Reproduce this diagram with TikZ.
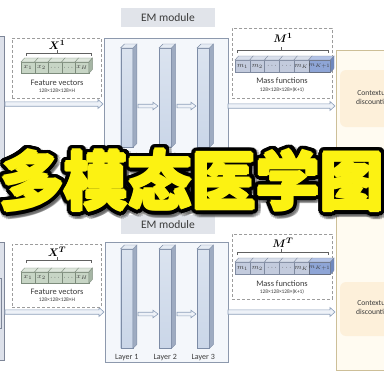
\documentclass[tikz,border=0pt]{standalone}
\usepackage{fontspec}
\usepackage{bm}
\usetikzlibrary{calc}
\newfontfamily\calib{Carlito}
\newfontfamily\cjk{Noto Sans CJK SC}

\definecolor{txt}{HTML}{3A3A3A}
\definecolor{emfill}{HTML}{F4F7FB}
\definecolor{emline}{HTML}{8D99AD}
\definecolor{labfill}{HTML}{E1E4EA}
\definecolor{srcfill}{HTML}{DDE1EA}
\definecolor{srcline}{HTML}{7E8698}
\definecolor{dashc}{HTML}{9C9C9C}
\definecolor{ctxfill}{HTML}{FFFBF1}
\definecolor{ctxline}{HTML}{CDBF98}
\definecolor{ctxinner}{HTML}{FDF0DA}
\definecolor{barfront}{HTML}{CAD6E8}
\definecolor{barside}{HTML}{9EABC1}
\definecolor{bartop}{HTML}{E6ECF4}
\definecolor{barline}{HTML}{7D8CA6}
\definecolor{arrline}{HTML}{8EA0BA}
\definecolor{arrfill}{HTML}{EEF2F8}
\definecolor{xfront}{HTML}{C7D5C5}
\definecolor{xtopc}{HTML}{DDE6DB}
\definecolor{xsidec}{HTML}{A6B6A5}
\definecolor{xline}{HTML}{7D8C7C}
\definecolor{mfront}{HTML}{C3CBDD}
\definecolor{mtopc}{HTML}{D9DFEB}
\definecolor{msidec}{HTML}{A1ABC2}
\definecolor{mline}{HTML}{7F8AA0}
\definecolor{mlast}{HTML}{8EA5D6}
\definecolor{mlasttop}{HTML}{B3C3E6}
\definecolor{mlastside}{HTML}{6F88BE}
\definecolor{ttlyellow}{RGB}{252,242,18}

\tikzset{
  lbl/.style={font=\calib\fontsize{8.4}{9}\selectfont, text=txt, inner sep=0pt},
  dims/.style={font=\calib\fontsize{5.4}{6}\selectfont, text=txt, inner sep=0pt},
  layerlbl/.style={font=\calib\fontsize{8}{9}\selectfont, text=txt, inner sep=0pt},
  emtitle/.style={fill=labfill, text=txt, font=\calib\fontsize{11.5}{12}\selectfont,
    minimum width=94, minimum height=19, inner sep=0pt},
  embox/.style={draw=emline, fill=emfill, line width=0.7pt, inner sep=0pt, anchor=north west},
  srcbox/.style={draw=srcline, fill=srcfill, line width=0.7pt, inner sep=0pt, anchor=north east},
  dashbox/.style={draw=dashc, dashed, dash pattern=on 3pt off 2pt, line width=0.6pt,
    inner sep=0pt, anchor=north west},
  ctxbox/.style={draw=ctxline, fill=ctxfill, line width=0.7pt, inner sep=0pt, anchor=north west},
  ctxtext/.style={font=\calib\fontsize{7.6}{8.4}\selectfont, text=txt, align=center, inner sep=0pt},
  bar/.style={draw=barline, line width=0.4pt, top color=bartop!60!barfront, bottom color=barfront,
    minimum width=12, minimum height=99, inner sep=0pt, anchor=north west},
  barsidef/.style={draw=barline, line width=0.4pt, fill=barside},
  bartopf/.style={draw=barline, line width=0.4pt, fill=bartop},
  hollowarrow/.style={draw=arrline, fill=arrfill, line width=0.6pt, line join=miter},
  bracket/.style={draw=txt!80, line width=0.5pt},
  veclbl/.style={font=\fontsize{11}{11}\selectfont, text=black, inner sep=0pt},
  xcube/.style={draw=xline, fill=xfront, line width=0.4pt, inner sep=0pt, anchor=north west,
    minimum width=13.5, minimum height=11, font=\fontsize{7}{7}\selectfont, text=txt},
  xtop/.style={draw=xline, line width=0.4pt, fill=xtopc},
  xside/.style={draw=xline, line width=0.4pt, fill=xsidec},
  mcube/.style={draw=mline, fill=mfront, line width=0.4pt, inner sep=0pt, anchor=north west,
    minimum width=14.7, minimum height=12, font=\fontsize{7}{7}\selectfont, text=txt},
  mtop/.style={draw=mline, line width=0.4pt, fill=mtopc},
  mside/.style={draw=mline, line width=0.4pt, fill=msidec},
  titlefont/.style={font=\cjk\bfseries\fontsize{64}{64}\selectfont, inner sep=0pt, anchor=base},
}

% hollow block arrow between two named points: start, end, half shaft, half head
\newcommand\blockarrow[4]{%
  \draw[hollowarrow] let \p1=(#1), \p2=(#2) in
    (\x1,\y1+#3) -- (\x2-5pt,\y2+#3) -- (\x2-5pt,\y2+#4) -- (\x2,\y2)
    -- (\x2-5pt,\y2-#4) -- (\x2-5pt,\y2-#3) -- (\x1,\y1-#3) -- cycle;}

% three-dimensional faces of a bar or cube node
\newcommand\topface[3]{%
  \filldraw[#3] (#1.north west) -- ++(#2,-4) -- ($(#1.north east)+(#2,-4)$) -- (#1.north east) -- cycle;}
\newcommand\sideface[3]{%
  \filldraw[#3] (#1.north east) -- ++(#2,-4) -- ($(#1.south east)+(#2,-4)$) -- (#1.south east) -- cycle;}

\begin{document}
\begin{tikzpicture}[x=1pt,y=-1pt]
\clip (0,0) rectangle (384,383);
\fill[white] (0,0) rectangle (384,383);

% ---------- source volumes on the left ----------
\node[srcbox, minimum width=20, minimum height=124] (src1) at (5,36) {};
\node[srcbox, minimum width=20, minimum height=118] (src2) at (5,242) {};
\node[srcbox, minimum width=12, minimum height=50] (src2in) at (2,278) {};

% ---------- contextual discounting block ----------
\node[ctxbox, minimum width=80, minimum height=320] (ctx) at (336,50) {};
\fill[ctxinner, rounded corners=6pt] (340,70) rectangle (400,127);
\fill[ctxinner, rounded corners=6pt] (340,282) rectangle (400,336);
\node[ctxtext] (ctx1) at (374,98) {Contextual\\discounting};
\node[ctxtext] (ctx2) at (374,308) {Contextual\\discounting};

% ---------- EM modules ----------
\node[emtitle] (eml1) at (168,17.5) {EM module};
\node[emtitle] (eml2) at (168,224.5) {EM module};
\node[embox, minimum width=124, minimum height=120] (em1) at (104,38) {};
\node[embox, minimum width=123, minimum height=120] (em2) at (105,242) {};

% layers of the upper module
\foreach \n/\x in {1/120.5, 2/159, 3/197} {
  \node[bar] (ta\n) at (\x,48) {};
  \sideface{ta\n}{4}{barsidef}
  \topface{ta\n}{4}{bartopf}
  \node[layerlbl] (tal\n) at ($(ta\n.south)+(0,9)$) {Layer \n};
}
% layers of the lower module
\foreach \n/\x in {1/120.5, 2/159, 3/197} {
  \node[bar] (ba\n) at (\x,249) {};
  \sideface{ba\n}{4}{barsidef}
  \topface{ba\n}{4}{bartopf}
  \node[layerlbl] (bal\n) at ($(ba\n.south)+(0,9)$) {Layer \n};
}

% ---------- arrow end points ----------
\coordinate (in1s) at (5,104);   \coordinate (in1e) at (103,104);
\coordinate (in2s) at (5,312);   \coordinate (in2e) at (104,312);
\coordinate (t12s) at (138,106); \coordinate (t12e) at (158,106);
\coordinate (t23s) at (177,106); \coordinate (t23e) at (196,106);
\coordinate (b12s) at (138,314); \coordinate (b12e) at (158,314);
\coordinate (b23s) at (177,314); \coordinate (b23e) at (196,314);
\coordinate (out1s) at (228,106); \coordinate (out1e) at (335,106);
\coordinate (out2s) at (228,312); \coordinate (out2e) at (335,312);

\blockarrow{in1s}{in1e}{2.2pt}{4.5pt}
\blockarrow{in2s}{in2e}{2.2pt}{4.5pt}
\blockarrow{t12s}{t12e}{1.8pt}{3.8pt}
\blockarrow{t23s}{t23e}{1.8pt}{3.8pt}
\blockarrow{b12s}{b12e}{1.8pt}{3.8pt}
\blockarrow{b23s}{b23e}{1.8pt}{3.8pt}
\blockarrow{out1s}{out1e}{2.2pt}{4.5pt}
\blockarrow{out2s}{out2e}{2.2pt}{4.5pt}

% ---------- feature vectors ----------
\node[dashbox, minimum width=89, minimum height=60] (xb1) at (12,38) {};
\node[dashbox, minimum width=89, minimum height=63] (xb2) at (12,244) {};
\node[veclbl] (xl1) at (57,45) {$\bm{X}^{\bm{1}}$};
\node[veclbl] (xl2) at (57,252) {$\bm{X}^{\bm{T}}$};
\draw[bracket] (26,56) -- (26,53) -- (91,53) -- (91,56) (57.5,53) -- (57.5,50);
\draw[bracket] (26,263) -- (26,260) -- (91,260) -- (91,263) (57.5,260) -- (57.5,257);

\foreach \r/\y in {u/62, d/272} {
  \foreach \i/\t in {0/{$x_1$}, 1/{$x_2$}, 2/{$\cdots$}, 3/{$\cdots$}, 4/{$x_H$}} {
    \node[xcube] (x\r\i) at ({21+13.5*\i},\y) {\t};
    \topface{x\r\i}{3.5}{xtop}
  }
  \sideface{x\r4}{3.5}{xside}
}
\node[lbl] (fv1) at (57,83) {Feature vectors};
\node[dims] (fd1) at (57,90.5) {128×128×128×H};
\node[lbl] (fv2) at (57,292) {Feature vectors};
\node[dims] (fd2) at (57,300) {128×128×128×H};

% ---------- mass functions ----------
\node[dashbox, minimum width=100, minimum height=70] (mb1) at (232,28) {};
\node[dashbox, minimum width=100, minimum height=65] (mb2) at (232,234) {};
\node[veclbl] (ml1) at (283,38) {$\bm{M}^{\bm{1}}$};
\node[veclbl] (ml2) at (283,243) {$\bm{M}^{\bm{T}}$};
\draw[bracket] (237,53) -- (237,50) -- (328,50) -- (328,53) (281,50) -- (281,47);
\draw[bracket] (237,255) -- (237,252) -- (328,252) -- (328,255) (281,252) -- (281,249);

\foreach \r/\y in {u/60, d/262} {
  \foreach \i/\t in {0/{$m_1$}, 1/{$m_2$}, 2/{$\cdots$}, 3/{$\cdots$}, 4/{$m_K$}} {
    \node[mcube] (m\r\i) at ({235+14.7*\i},\y) {\t};
    \topface{m\r\i}{3.5}{mtop}
  }
  \node[mcube, fill=mlast, draw=mline!80!black] (m\r5) at ({235+14.7*5},\y)
    {\fontsize{6}{6}\selectfont$m_{K+1}$};
  \topface{m\r5}{3.5}{mtop, fill=mlasttop}
  \sideface{m\r5}{3.5}{mside, fill=mlastside}
}
\node[lbl] (mf1) at (282,81) {Mass functions};
\node[dims] (md1) at (282,89.5) {128×128×128×(K+1)};
\node[lbl] (mf2) at (282,284) {Mass functions};
\node[dims] (md2) at (282,292) {128×128×128×(K+1)};

% ---------- overlaid title: halo, black outline from offset copies, yellow letters ----------
\coordinate (ttlbase) at (192,205);
\foreach \a in {0,20,...,340} {
  \node[titlefont, text=black!70, opacity=0.3] (ttlshadow\a) at ($(ttlbase)+(1.5,2)+(\a:6.5)$) {多模态医学图};
}
\foreach \a in {0,10,...,350} {
  \node[titlefont, text=black] (ttlouter\a) at ($(ttlbase)+(\a:5)$) {多模态医学图};
}
\foreach \a in {0,20,...,340} {
  \node[titlefont, text=black] (ttlmid\a) at ($(ttlbase)+(\a:3.3)$) {多模态医学图};
}
\foreach \a in {0,45,...,315} {
  \node[titlefont, text=ttlyellow] (ttlbold\a) at ($(ttlbase)+(\a:1.1)$) {多模态医学图};
}
\node[titlefont, text=ttlyellow] (ttl) at (ttlbase) {多模态医学图};
\end{tikzpicture}
\end{document}
